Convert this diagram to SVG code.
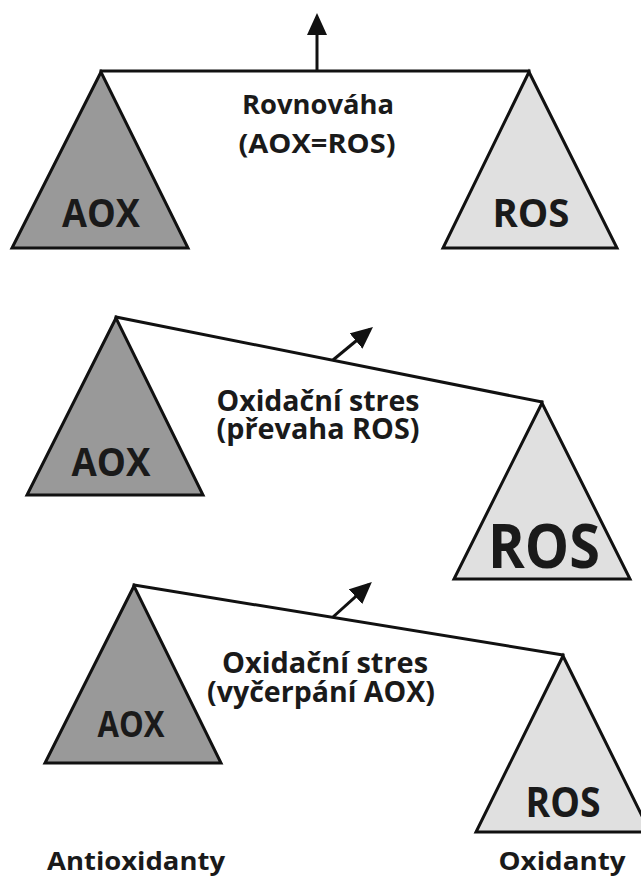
<svg xmlns="http://www.w3.org/2000/svg" width="641" height="878" viewBox="0 0 641 878">
  <defs>
    <marker id="head" viewBox="0 0 22 20" markerWidth="22" markerHeight="20" refX="18" refY="10" orient="auto" markerUnits="userSpaceOnUse">
      <path d="M0,0 L22,10 L0,20 z" fill="#111"/>
    </marker>
    <style>
      .tri { stroke: #111; stroke-width: 3; stroke-linejoin: miter; }
      .aox { fill: #999999; }
      .ros { fill: #e0e0e0; }
      .beam { fill: none; stroke: #111; stroke-width: 3; stroke-linecap: square; }
      .arrow { fill: none; stroke: #111; stroke-width: 3; marker-end: url(#head); }
      text { font-family: "Open Sans", "Noto Sans", "DejaVu Sans", sans-serif; font-weight: 700; fill: #1a1a1a; text-anchor: middle; }
    </style>
  </defs>
  <rect width="641" height="878" fill="#fff"/>

  <!-- Balance 1: equilibrium -->
  <g id="aox-1">
    <polygon class="tri aox" points="101,72 12,248 188,248"/>
    <text x="101" y="227" font-size="40" textLength="78" lengthAdjust="spacingAndGlyphs">AOX</text>
  </g>
  <g id="ros-1">
    <polygon class="tri ros" points="529,72 443,248 617,248"/>
    <text x="531" y="227" font-size="40" textLength="77" lengthAdjust="spacingAndGlyphs">ROS</text>
  </g>
  <g id="label-1">
    <text x="318" y="114" font-size="27" textLength="152" lengthAdjust="spacingAndGlyphs">Rovnováha</text>
    <text x="317" y="153" font-size="27" textLength="157" lengthAdjust="spacingAndGlyphs">(AOX=ROS)</text>
  </g>

  <!-- Balance 2: ROS excess -->
  <g id="aox-2">
    <polygon class="tri aox" points="116,318 27,495 203,495"/>
    <text x="111" y="476" font-size="40" textLength="79" lengthAdjust="spacingAndGlyphs">AOX</text>
  </g>
  <g id="ros-2">
    <polygon class="tri ros" points="542,403 454,579 630,579"/>
    <text x="544" y="568" font-size="60" textLength="112" lengthAdjust="spacingAndGlyphs">ROS</text>
  </g>
  <g id="label-2">
    <text x="318" y="411" font-size="28" textLength="203" lengthAdjust="spacingAndGlyphs">Oxidační stres</text>
    <text x="318" y="439" font-size="28" textLength="203" lengthAdjust="spacingAndGlyphs">(převaha ROS)</text>
  </g>

  <!-- Balance 3: AOX depletion -->
  <g id="aox-3">
    <polygon class="tri aox" points="134,586 45,763 221,763"/>
    <text x="131" y="737" font-size="35" textLength="67" lengthAdjust="spacingAndGlyphs">AOX</text>
  </g>
  <g id="ros-3">
    <polygon class="tri ros" points="563,656 476,832 650,832"/>
    <text x="563" y="817" font-size="42" textLength="75" lengthAdjust="spacingAndGlyphs">ROS</text>
  </g>
  <g id="label-3">
    <text x="325" y="673" font-size="28" textLength="206" lengthAdjust="spacingAndGlyphs">Oxidační stres</text>
    <text x="321" y="702" font-size="28" textLength="228" lengthAdjust="spacingAndGlyphs">(vyčerpání AOX)</text>
  </g>

  <!-- Beams and tilt arrows -->
  <g id="connectors">
    <line class="beam" x1="101" y1="71" x2="529" y2="71"/>
    <line class="arrow" x1="317" y1="71" x2="317" y2="17"/>
    <line class="beam" x1="116" y1="317" x2="542" y2="402"/>
    <line class="arrow" x1="333" y1="360" x2="369.9" y2="329.5"/>
    <line class="beam" x1="134" y1="585" x2="563" y2="655"/>
    <line class="arrow" x1="333" y1="617" x2="368.9" y2="584.6"/>
  </g>

  <!-- Side captions -->
  <g id="captions">
    <text x="136" y="870" font-size="25" textLength="178" lengthAdjust="spacingAndGlyphs">Antioxidanty</text>
    <text x="562" y="870" font-size="25" textLength="127" lengthAdjust="spacingAndGlyphs">Oxidanty</text>
  </g>
</svg>
